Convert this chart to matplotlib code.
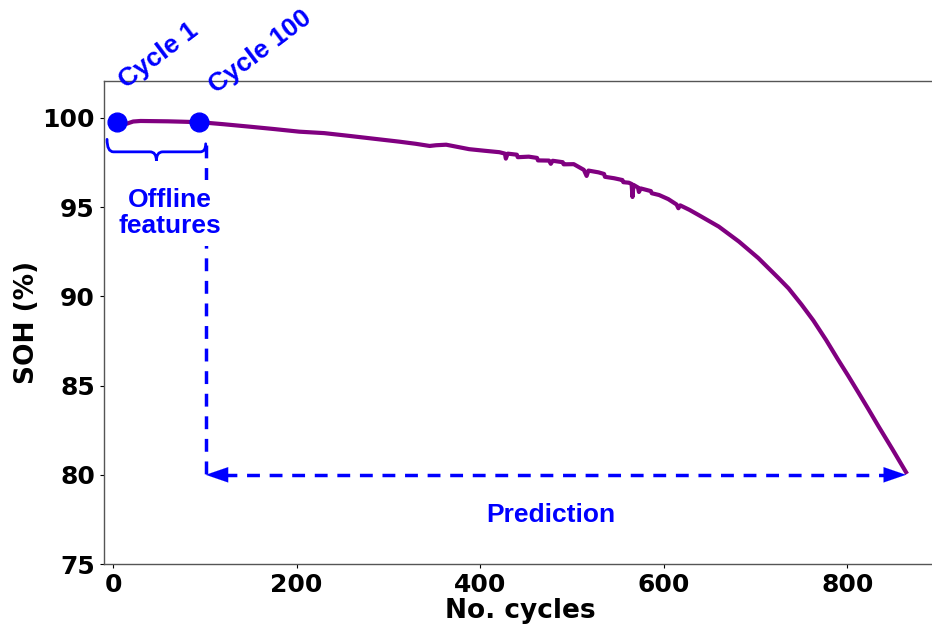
import numpy as np
import matplotlib
matplotlib.use("Agg")
import matplotlib.pyplot as plt
from matplotlib.path import Path
from matplotlib.patches import PathPatch

# SOH curve
cycles = [3, 8, 12, 15, 22, 30, 45, 60, 75, 95, 120, 149, 175, 203, 230, 258,
          285, 312, 330, 345, 352, 363, 375, 388, 405, 421, 427, 428, 430, 440,
          441, 453, 462, 463, 475, 477, 479, 490, 491, 502, 513, 516, 518, 529,
          535, 536, 546, 555, 556, 562, 565, 566, 567, 572, 573, 575, 586, 587,
          595, 605, 614, 616, 618, 628, 638, 660, 682, 703, 725, 736, 750, 763,
          777, 790, 801, 812, 823, 834, 849, 864]
soh = [99.74, 99.70, 99.62, 99.68, 99.80, 99.83, 99.82, 99.81, 99.79, 99.76,
       99.65, 99.51, 99.38, 99.23, 99.15, 98.99, 98.83, 98.67, 98.55, 98.43,
       98.47, 98.50, 98.38, 98.25, 98.16, 98.08, 98.00, 97.72, 98.00, 97.94,
       97.80, 97.83, 97.76, 97.62, 97.61, 97.43, 97.60, 97.52, 97.40, 97.41,
       97.09, 96.75, 97.05, 96.95, 96.86, 96.70, 96.62, 96.52, 96.40, 96.37,
       96.30, 95.57, 96.25, 96.10, 95.85, 96.05, 95.90, 95.78, 95.68, 95.45,
       95.15, 94.94, 95.10, 94.85, 94.56, 93.91, 93.07, 92.15, 91.03, 90.45,
       89.55, 88.65, 87.55, 86.45, 85.55, 84.62, 83.68, 82.72, 81.45, 80.15]

marker_cycles = [4, 94]
marker_soh = [99.75, 99.75]
marker_labels = ["Cycle 1", "Cycle 100"]

split_cycle = 101      # end of the offline window
eol_soh = 80           # end of life threshold

xticks = [0, 200, 400, 600, 800]
yticks = [75, 80, 85, 90, 95, 100]

blue = "#0000ff"
purple = "#800080"
txt_font = ["Liberation Sans", "DejaVu Sans"]

fig = plt.figure(figsize=(9.32, 6.26), dpi=100)
ax = fig.add_axes([0.1116, 0.099, 0.894, 0.7716])

ax.plot(cycles, soh, color=purple, lw=3.0, zorder=3)
ax.plot(marker_cycles, marker_soh, "o", color=blue, ms=13.5, zorder=4)

# labels of the two markers, tilted
ax.text(50, 103.48, marker_labels[0], rotation=37, ha="center", va="center",
        color=blue, fontsize=19, fontweight="bold", family=txt_font)
ax.text(160, 103.7, marker_labels[1], rotation=37, ha="center", va="center",
        color=blue, fontsize=19, fontweight="bold", family=txt_font)

# curly brace under the offline window
def brace(x0, x1, ytop, ymid, ytip):
    xc = (x0 + x1) / 2
    verts = [(x0, ytop), (x0, ymid), (x0 + 7, ymid),
             (xc - 7, ymid),
             (xc, ymid), (xc, ytip),
             (xc, ymid), (xc + 7, ymid),
             (x1 - 6, ymid),
             (x1, ymid), (x1, ytop - 0.25)]
    codes = [Path.MOVETO, Path.CURVE3, Path.CURVE3,
             Path.LINETO,
             Path.CURVE3, Path.CURVE3,
             Path.CURVE3, Path.CURVE3,
             Path.LINETO,
             Path.CURVE3, Path.CURVE3]
    return PathPatch(Path(verts, codes), fill=False, ec=blue, lw=2.0,
                     capstyle="round", zorder=4)

ax.add_patch(brace(-6.5, split_cycle, 98.8, 98.1, 97.6))

# vertical split line and prediction arrow
ax.plot([split_cycle, split_cycle], [98.5, eol_soh], color=blue, lw=2.5,
        dashes=(3.7, 2.8), zorder=2)
ax.plot([split_cycle + 20, cycles[-1] - 20], [eol_soh, eol_soh], color=blue,
        lw=2.5, dashes=(3.7, 2.8), zorder=2)
for tip, tail in [(split_cycle, split_cycle + 26), (cycles[-1], cycles[-1] - 26)]:
    ax.annotate("", xy=(tip, eol_soh), xytext=(tail, eol_soh),
                arrowprops=dict(arrowstyle="-|>,head_length=1.6,head_width=0.55",
                                color=blue, lw=0.1, shrinkA=0, shrinkB=0),
                zorder=3)

ax.text(62, 94.67, "Offline\nfeatures", ha="center", va="center", color=blue,
        fontsize=19, fontweight="bold", family=txt_font, linespacing=1.1,
        bbox=dict(fc="white", ec="none", pad=6), zorder=3)
ax.text(477, 77.75, "Prediction", ha="center", va="center", color=blue,
        fontsize=19, fontweight="bold", family=txt_font)

ax.set_xlim(-9.8, 898)
ax.set_ylim(75, 102.07)
ax.set_xticks(xticks)
ax.set_yticks(yticks)
ax.tick_params(labelsize=18, length=3, width=0.8, colors="black")
for lab in ax.get_xticklabels() + ax.get_yticklabels():
    lab.set_fontweight("bold")
for s in ax.spines.values():
    s.set_color("#555555")
    s.set_linewidth(1.0)
ax.spines["right"].set_visible(False)

ax.set_xlabel("No. cycles", fontsize=19, fontweight="bold", labelpad=1)
ax.set_ylabel("SOH (%)", fontsize=19, fontweight="bold", labelpad=1.5)

fig.savefig("out.png", dpi=100, facecolor="white")
